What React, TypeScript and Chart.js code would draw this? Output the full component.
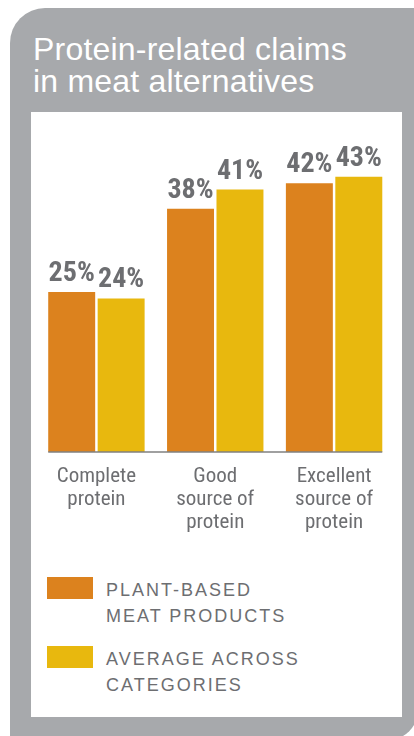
import React, { useEffect, useRef } from "react";
import { Chart, registerables } from "chart.js";

Chart.register(...registerables);

// ---- data ----
const titleLines = ["Protein-related claims", "in meat alternatives"];
const categories = [
  ["Complete", "protein"],
  ["Good", "source of", "protein"],
  ["Excellent", "source of", "protein"],
];
const plantBased = [25, 38, 42];
const averageAcross = [24, 41, 43];
const seriesLabels = ["PLANT-BASED MEAT PRODUCTS", "AVERAGE ACROSS CATEGORIES"];
const legendLines = [
  ["PLANT-BASED", "MEAT PRODUCTS"],
  ["AVERAGE ACROSS", "CATEGORIES"],
];
const yMin = 0;
const yMax = 50;

// ---- styles ----
const ORANGE = "#dc821e";
const YELLOW = "#e8b80e";
const TEXT_GRAY = "#6d6e71";
const PANEL_GRAY = "#a7a9ac";
const NARROW =
  '"Roboto Condensed", "DejaVu Sans Condensed", "Liberation Sans Narrow", "Arial Narrow", "Liberation Sans", Arial, sans-serif';
const SANS = '"Liberation Sans", Arial, Helvetica, sans-serif';

const baselinePlugin = {
  id: "baselinePlugin",
  afterDatasetsDraw(chart: any) {
    const first = chart.getDatasetMeta(0).data[0];
    const lastMeta = chart.getDatasetMeta(chart.data.datasets.length - 1);
    const last = lastMeta.data[lastMeta.data.length - 1];
    if (!first || !last) return;
    const x0 = first.x - first.width / 2;
    const x1 = last.x + last.width / 2;
    const y = chart.scales.y.getPixelForValue(0);
    const ctx = chart.ctx;
    ctx.save();
    ctx.strokeStyle = "#808080";
    ctx.lineWidth = 1.5;
    ctx.beginPath();
    ctx.moveTo(x0, y);
    ctx.lineTo(x1, y);
    ctx.stroke();
    ctx.restore();
  },
};

const valueLabelPlugin = {
  id: "valueLabelPlugin",
  afterDatasetsDraw(chart: any) {
    const ctx = chart.ctx;
    ctx.save();
    ctx.fillStyle = TEXT_GRAY;
    ctx.font = `bold 28px ${NARROW}`;
    ctx.textAlign = "center";
    ctx.textBaseline = "alphabetic";
    chart.data.datasets.forEach((ds: any, di: number) => {
      const meta = chart.getDatasetMeta(di);
      meta.data.forEach((el: any, i: number) => {
        ctx.fillText(`${ds.data[i]}%`, el.x, el.y - 11);
      });
    });
    ctx.restore();
  },
};

function BarChart() {
  const ref = useRef<HTMLCanvasElement | null>(null);
  useEffect(() => {
    if (!ref.current) return;
    const chart = new Chart(ref.current, {
      type: "bar",
      data: {
        labels: categories as any,
        datasets: [
          {
            label: seriesLabels[0],
            data: plantBased,
            backgroundColor: ORANGE,
            categoryPercentage: 0.832,
            barPercentage: 0.95,
          },
          {
            label: seriesLabels[1],
            data: averageAcross,
            backgroundColor: YELLOW,
            categoryPercentage: 0.832,
            barPercentage: 0.95,
          },
        ],
      },
      options: {
        animation: false,
        responsive: false,
        maintainAspectRatio: false,
        layout: { padding: { left: 6, right: 8.5, top: 20, bottom: 0 } },
        plugins: {
          legend: { display: false },
          tooltip: { enabled: false },
          title: { display: false },
        },
        scales: {
          x: {
            grid: { display: false, drawTicks: false },
            border: { display: false },
            ticks: {
              color: TEXT_GRAY,
              padding: 13,
              maxRotation: 0,
              autoSkip: false,
              font: { family: NARROW, size: 21, lineHeight: 23 / 21 },
            },
            afterFit(scale: any) {
              scale.height = 88;
            },
          },
          y: {
            display: false,
            min: yMin,
            max: yMax,
          },
        },
      },
      plugins: [baselinePlugin, valueLabelPlugin],
    } as any);
    return () => chart.destroy();
  }, []);
  return (
    <canvas
      ref={ref}
      width={371}
      height={428}
      style={{ position: "absolute", left: 31, top: 112, width: 371, height: 428 }}
    />
  );
}

export default function App() {
  const swatches = [ORANGE, YELLOW];
  const legendTops = [577, 646];
  return (
    <div
      style={{
        position: "absolute",
        left: 0,
        top: 0,
        width: 414,
        height: 736,
        overflow: "hidden",
        background: "#ffffff",
      }}
    >
      <div
        style={{
          position: "absolute",
          left: 10,
          top: 8,
          width: 408,
          height: 732,
          background: PANEL_GRAY,
          borderRadius: "35px 0 30px 0",
        }}
      />
      <div
        style={{
          position: "absolute",
          left: 33,
          top: 33,
          color: "#ffffff",
          fontFamily: SANS,
          fontSize: 32,
          lineHeight: "32px",
          letterSpacing: "0.2px",
          whiteSpace: "nowrap",
        }}
      >
        {titleLines.map((t, i) => (
          <div key={i}>{t}</div>
        ))}
      </div>
      <div
        style={{
          position: "absolute",
          left: 31,
          top: 112,
          width: 371,
          height: 605,
          background: "#ffffff",
        }}
      />
      <BarChart />
      {legendLines.map((lines, i) => (
        <React.Fragment key={i}>
          <div
            style={{
              position: "absolute",
              left: 47,
              top: legendTops[i],
              width: 46,
              height: 22,
              background: swatches[i],
            }}
          />
          <div
            style={{
              position: "absolute",
              left: 106,
              top: legendTops[i],
              color: TEXT_GRAY,
              fontFamily: SANS,
              fontSize: 18,
              lineHeight: "26px",
              letterSpacing: "2px",
              whiteSpace: "nowrap",
            }}
          >
            {lines.map((l, j) => (
              <div key={j}>{l}</div>
            ))}
          </div>
        </React.Fragment>
      ))}
    </div>
  );
}
